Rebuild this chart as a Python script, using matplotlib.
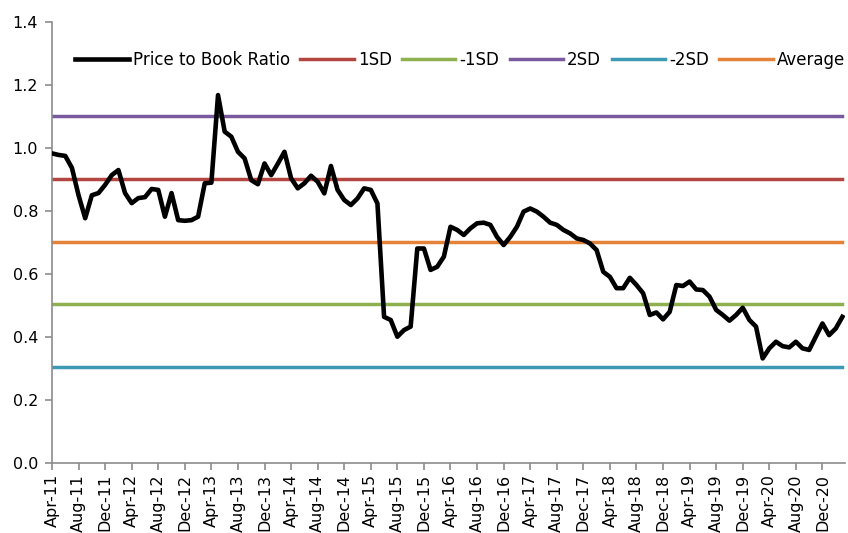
import matplotlib
matplotlib.use("Agg")
import matplotlib.pyplot as plt
import pandas as pd

plt.rcParams['font.family'] = ['DejaVu Sans']

start_month = "2011-04"
pb_ratio = [
    0.983, 0.978, 0.975, 0.937, 0.850, 0.777, 0.850, 0.857, 0.883, 0.914,
    0.930, 0.857, 0.825, 0.841, 0.844, 0.870, 0.867, 0.782, 0.857, 0.771,
    0.769, 0.771, 0.782, 0.888, 0.890, 1.168, 1.052, 1.036, 0.988, 0.967,
    0.898, 0.885, 0.951, 0.914, 0.950, 0.988, 0.904, 0.872, 0.888, 0.912,
    0.893, 0.856, 0.943, 0.867, 0.835, 0.819, 0.840, 0.872, 0.867, 0.824,
    0.464, 0.454, 0.401, 0.422, 0.433, 0.681, 0.681, 0.613, 0.623, 0.655,
    0.750, 0.740, 0.724, 0.745, 0.761, 0.763, 0.756, 0.718, 0.692, 0.718,
    0.750, 0.798, 0.808, 0.798, 0.782, 0.763, 0.756, 0.740, 0.729, 0.713,
    0.708, 0.697, 0.676, 0.607, 0.591, 0.555, 0.555, 0.588, 0.565, 0.539,
    0.470, 0.478, 0.456, 0.480, 0.565, 0.562, 0.576, 0.551, 0.549, 0.528,
    0.486, 0.470, 0.452, 0.470, 0.493, 0.454, 0.433, 0.332, 0.364, 0.385,
    0.371, 0.367, 0.385, 0.364, 0.359, 0.401, 0.443, 0.406, 0.427, 0.464,
]
average = 0.703
sd_plus1 = 0.902
sd_minus1 = 0.504
sd_plus2 = 1.101
sd_minus2 = 0.305

dates = pd.period_range(start_month, periods=len(pb_ratio), freq="M")
labels = [d.strftime("%b-%y") for d in dates]
x = list(range(len(pb_ratio)))

fig = plt.figure(figsize=(8.48, 5.33), dpi=100)
ax = fig.add_axes([0.0613, 0.1313, 0.9352, 0.8274])

lw_h = 2.5
ax.plot(x, pb_ratio, color='black', lw=3.3, label='Price to Book Ratio', zorder=5,
        solid_joinstyle='round')
ax.plot(x, [sd_plus1] * len(x), color='#B34641', lw=lw_h, label='1SD')
ax.plot(x, [sd_minus1] * len(x), color='#8FB04F', lw=lw_h, label='-1SD')
ax.plot(x, [sd_plus2] * len(x), color='#7A5A9E', lw=lw_h, label='2SD')
ax.plot(x, [sd_minus2] * len(x), color='#3D9AB4', lw=lw_h, label='-2SD')
ax.plot(x, [average] * len(x), color='#E5823A', lw=lw_h, label='Average')

ax.set_xlim(0, 119.4)
ax.set_ylim(0, 1.4)
ax.set_yticks([0.0, 0.2, 0.4, 0.6, 0.8, 1.0, 1.2, 1.4])
ax.set_yticklabels([f"{v:.1f}" for v in ax.get_yticks()], fontsize=11.5)
ax.set_xticks(x[::4])
ax.set_xticklabels(labels[::4], rotation=90, fontsize=11.5)

for s in ['top', 'right']:
    ax.spines[s].set_visible(False)
for s in ['left', 'bottom']:
    ax.spines[s].set_color('#8C8C8C')
    ax.spines[s].set_linewidth(1.2)
ax.tick_params(axis='both', direction='out', length=5, width=1.2, color='#8C8C8C',
               labelcolor='black')
ax.tick_params(axis='y', pad=5)
ax.tick_params(axis='x', pad=3)

leg = ax.legend(loc='center right', bbox_to_anchor=(1.0, 0.914), ncol=6, frameon=False,
                fontsize=12, handlelength=3.2, handletextpad=0.25, columnspacing=0.62,
                borderaxespad=0, borderpad=0)

fig.savefig('out.png', dpi=100)
